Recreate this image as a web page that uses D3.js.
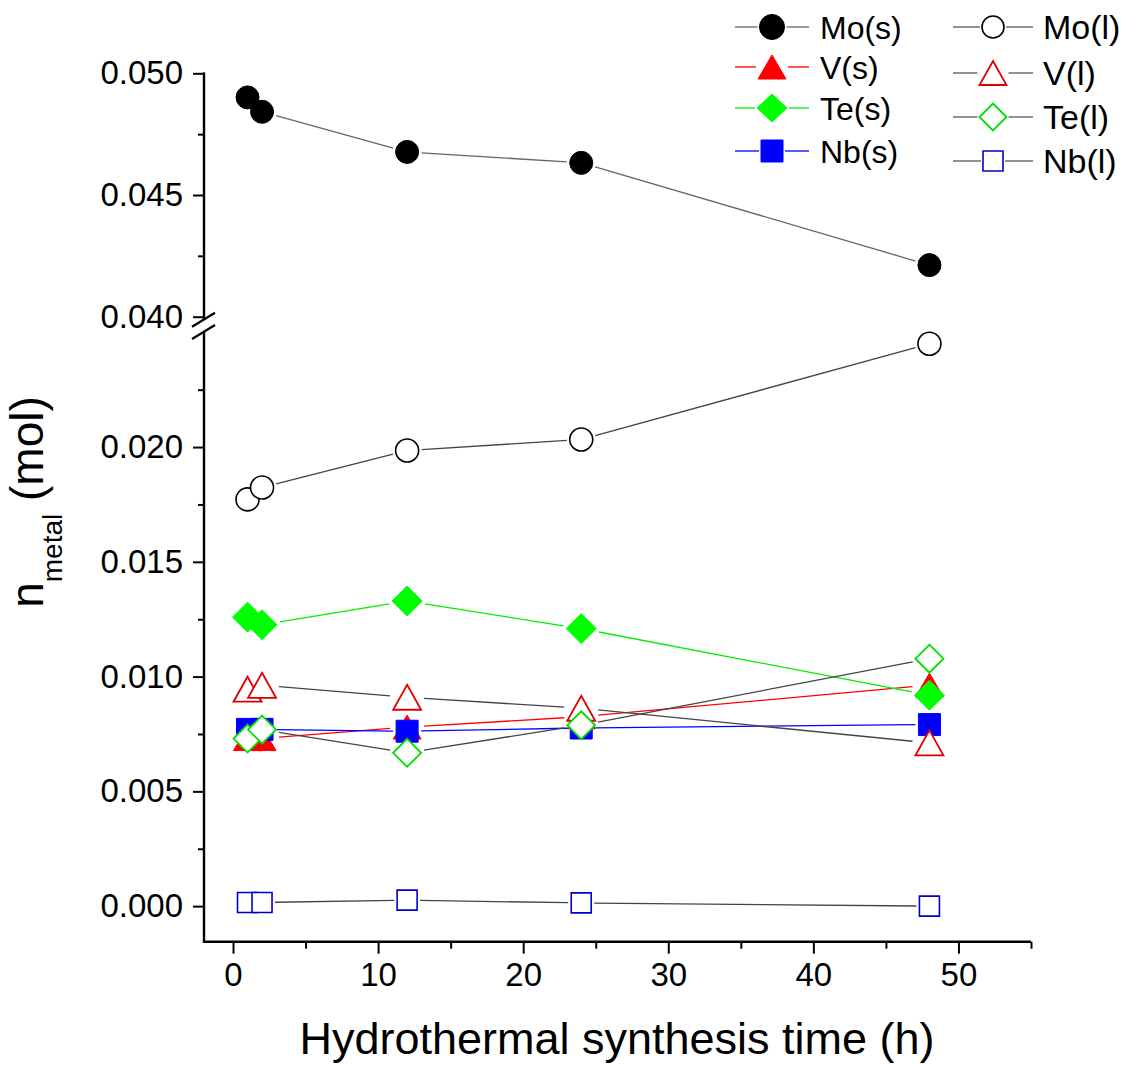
<!DOCTYPE html>
<html><head><meta charset="utf-8">
<script src="https://cdn.jsdelivr.net/npm/d3@7"></script>
<style>
body{margin:0;background:#fff}
svg{display:block}
text{font-family:"Liberation Sans",Arial,sans-serif;fill:#000}
</style>
</head><body>
<svg id="chart" width="1127" height="1065"></svg>
<script>
// ---------- data ----------
const hours = [1, 2, 12, 24, 48];
const moS = [0.04901, 0.04842, 0.04677, 0.04632, 0.04212];
const vS  = [0.0073, 0.0073, 0.0078, 0.00825, 0.00963];
const teS = [0.01259, 0.01226, 0.01329, 0.01209, 0.00919];
const nbS = [0.0077, 0.0077, 0.00762, 0.00776, 0.00791];
const moL = [0.01772, 0.01824, 0.01985, 0.02033, 0.02450];
const vL  = [0.00945, 0.00962, 0.0091, 0.00862, 0.00711];
const teL = [0.0073, 0.00769, 0.00668, 0.00788, 0.01078];
const nbL = [0.00016, 0.00016, 0.00026, 0.00014, 0.0];
const seriesNames = ["Mo(s)", "V(s)", "Te(s)", "Nb(s)", "Mo(l)", "V(l)", "Te(l)", "Nb(l)"];
const xTicks = [0, 10, 20, 30, 40, 50];
const xMinor = [5, 15, 25, 35, 45, 55];
const yTopTicks = [0.040, 0.045, 0.050];
const yTopMinor = [0.0425, 0.0475];
const yBotTicks = [0.000, 0.005, 0.010, 0.015, 0.020];
const yBotMinor = [0.0025, 0.0075, 0.0125, 0.0175, 0.0225];
const xTitle = "Hydrothermal synthesis time (h)";

// ---------- scales ----------
const svg = d3.select("#chart");
const x = d3.scaleLinear().domain([-2, 55]).range([204, 1031]);
const yTop = d3.scaleLinear().domain([0.040, 0.050]).range([316.7, 73.3]);
const yBot = d3.scaleLinear().domain([-0.00155, 0.0251]).range([941.7, 330]);

// ---------- series styles ----------
const styles = [
  {scale: yTop, shape: "circle",   w: 23, h: 23, fill: "#000",    stroke: "#000",    sw: 1,   line: "#666"},
  {scale: yBot, shape: "triangle", w: 28, h: 24, fill: "#ff0000", stroke: "#ff0000", sw: 1,   line: "#ff0000"},
  {scale: yBot, shape: "diamond",  w: 30, h: 30, fill: "#00ff00", stroke: "#00ff00", sw: 1,   line: "#00ee00"},
  {scale: yBot, shape: "square",   w: 22, h: 22, fill: "#0000ff", stroke: "#0000ff", sw: 1,   line: "#0000ff"},
  {scale: yBot, shape: "circle",   w: 23, h: 23, fill: "#fff",    stroke: "#000",    sw: 1.6, line: "#444"},
  {scale: yBot, shape: "triangle", w: 28, h: 25, fill: "#fff",    stroke: "#dd0000", sw: 1.8, line: "#444"},
  {scale: yBot, shape: "diamond",  w: 28, h: 28, fill: "#fff",    stroke: "#00dd00", sw: 1.8, line: "#444"},
  {scale: yBot, shape: "square",   w: 20, h: 20, fill: "#fff",    stroke: "#0000cc", sw: 1.6, line: "#444"}
];
const values = [moS, vS, teS, nbS, moL, vL, teL, nbL];

function shapePath(shape, w, h) {
  const a = w / 2, b = h / 2;
  switch (shape) {
    case "circle": return `M${-a},0A${a},${a} 0 1,0 ${a},0A${a},${a} 0 1,0 ${-a},0Z`;
    case "triangle": return `M0,${-b}L${a},${b}L${-a},${b}Z`;
    case "diamond": return `M0,${-b}L${a},0L0,${b}L${-a},0Z`;
    default: return `M${-a},${-b}H${a}V${b}H${-a}Z`;
  }
}

// ---------- axes ----------
const axisColor = "#000";
function styleAxis(g, fs) {
  g.selectAll(".domain").remove();
  g.selectAll(".tick line").attr("stroke", axisColor).attr("stroke-width", 2);
  g.selectAll(".tick text").attr("font-size", fs).attr("fill", "#000")
    .style("font-family", '"Liberation Sans",Arial,sans-serif');
}

// x axis
const gx = svg.append("g").attr("transform", `translate(0,${yBot.range()[0]})`);
gx.call(d3.axisBottom(x).tickValues(xTicks).tickSize(12).tickPadding(9).tickFormat(d3.format("d")));
styleAxis(gx, 33);
const gxm = svg.append("g").attr("transform", `translate(0,${yBot.range()[0]})`);
gxm.call(d3.axisBottom(x).tickValues(xMinor).tickSize(7).tickFormat(""));
styleAxis(gxm, 0);
svg.append("line").attr("x1", x.range()[0] - 1).attr("x2", x.range()[1])
  .attr("y1", yBot.range()[0]).attr("y2", yBot.range()[0])
  .attr("stroke", axisColor).attr("stroke-width", 2.4);

// y axes
const x0 = x.range()[0];
const gyT = svg.append("g").attr("transform", `translate(${x0},0)`);
gyT.call(d3.axisLeft(yTop).tickValues(yTopTicks).tickSize(11).tickPadding(10).tickFormat(d3.format(".3f")));
styleAxis(gyT, 33);
const gyTm = svg.append("g").attr("transform", `translate(${x0},0)`);
gyTm.call(d3.axisLeft(yTop).tickValues(yTopMinor).tickSize(6).tickFormat(""));
styleAxis(gyTm, 0);

const gyB = svg.append("g").attr("transform", `translate(${x0},0)`);
gyB.call(d3.axisLeft(yBot).tickValues(yBotTicks).tickSize(11).tickPadding(10).tickFormat(d3.format(".3f")));
styleAxis(gyB, 33);
const gyBm = svg.append("g").attr("transform", `translate(${x0},0)`);
gyBm.call(d3.axisLeft(yBot).tickValues(yBotMinor).tickSize(6).tickFormat(""));
styleAxis(gyBm, 0);

// y axis lines with break
const topEnd = yTop(0.050) - 1;
const breakA = yTop.range()[0] + 3;
const breakB = yBot.range()[1] + 2;
svg.append("line").attr("x1", x0).attr("x2", x0).attr("y1", topEnd).attr("y2", breakA)
  .attr("stroke", axisColor).attr("stroke-width", 2.4);
svg.append("line").attr("x1", x0).attr("x2", x0).attr("y1", breakB).attr("y2", yBot.range()[0] + 1)
  .attr("stroke", axisColor).attr("stroke-width", 2.4);
[breakA, breakB].forEach(cy => {
  svg.append("line").attr("x1", x0 - 12).attr("x2", x0 + 11)
    .attr("y1", cy + 7).attr("y2", cy - 7)
    .attr("stroke", axisColor).attr("stroke-width", 2.2);
});

// ---------- series ----------
const plot = svg.append("g");
values.forEach((vals, i) => {
  const st = styles[i];
  const pts = hours.map((h, j) => [x(h), st.scale(vals[j])]);
  const gap = Math.max(st.w, st.h) / 2 + 3;
  const g = plot.append("g");
  for (let j = 0; j < pts.length - 1; j++) {
    const [ax, ay] = pts[j], [bx, by] = pts[j + 1];
    const dx = bx - ax, dy = by - ay, len = Math.hypot(dx, dy);
    if (len <= 2 * gap) continue;
    const ux = dx / len, uy = dy / len;
    g.append("line")
      .attr("x1", ax + ux * gap).attr("y1", ay + uy * gap)
      .attr("x2", bx - ux * gap).attr("y2", by - uy * gap)
      .attr("stroke", st.line).attr("stroke-width", 1.3);
  }
  g.selectAll("path.m").data(pts).enter().append("path")
    .attr("class", "m")
    .attr("d", shapePath(st.shape, st.w, st.h))
    .attr("transform", d => `translate(${d[0]},${d[1]})`)
    .attr("fill", st.fill).attr("stroke", st.stroke).attr("stroke-width", st.sw);
});

// ---------- legend ----------
const legendCols = [
  {lineX: [735, 809], mx: 772, tx: 820, fs: 32, ys: [27, 67, 108, 151]},
  {lineX: [953, 1033], mx: 993, tx: 1043, fs: 34, ys: [27, 73, 117, 161]}
];
const legendSizes = [[25, 25], [28, 24], [30, 28], [22, 22], [22, 22], [27, 24], [27, 27], [20, 20]];
seriesNames.forEach((name, i) => {
  const col = legendCols[Math.floor(i / 4)];
  const y = col.ys[i % 4];
  const st = styles[i];
  const [w, h] = legendSizes[i];
  const g = svg.append("g");
  const gp = w / 2 + 2;
  const lc = st.line === "#444" ? "#555" : st.line;
  g.append("line").attr("x1", col.lineX[0]).attr("x2", col.mx - gp).attr("y1", y).attr("y2", y)
    .attr("stroke", lc).attr("stroke-width", 1.3);
  g.append("line").attr("x1", col.mx + gp).attr("x2", col.lineX[1]).attr("y1", y).attr("y2", y)
    .attr("stroke", lc).attr("stroke-width", 1.3);
  g.append("path").attr("d", shapePath(st.shape, w, h))
    .attr("transform", `translate(${col.mx},${y})`)
    .attr("fill", st.fill).attr("stroke", st.stroke).attr("stroke-width", st.sw);
  g.append("text").attr("x", col.tx).attr("y", y).attr("dy", "0.36em")
    .attr("font-size", col.fs).text(name);
});

// ---------- titles ----------
svg.append("text").attr("x", 617).attr("y", 1054).attr("text-anchor", "middle")
  .attr("font-size", 45).text(xTitle);

const yt = svg.append("text").attr("transform", "translate(43,502) rotate(-90)")
  .attr("text-anchor", "middle").attr("font-size", 46);
yt.append("tspan").text("n");
yt.append("tspan").attr("font-size", 28).attr("dy", 19).text("metal");
yt.append("tspan").attr("dy", -19).text(" (mol)");
</script>
</body></html>
